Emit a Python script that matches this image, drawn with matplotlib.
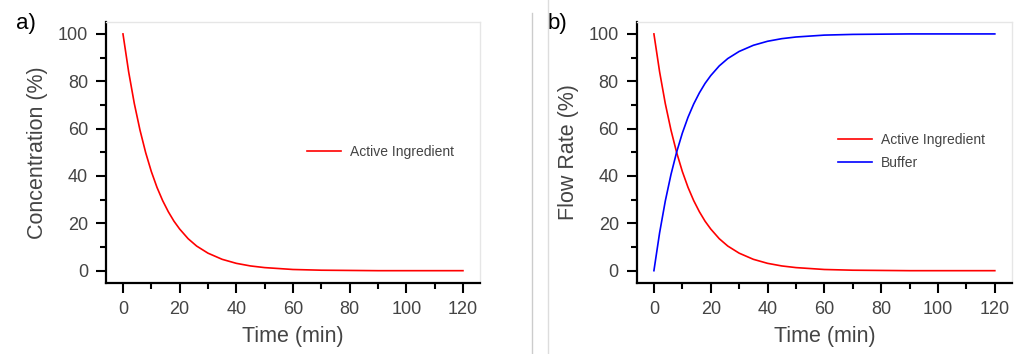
import matplotlib
matplotlib.use("Agg")
import matplotlib.pyplot as plt
from matplotlib.lines import Line2D
from matplotlib.ticker import MultipleLocator

plt.rcParams["font.family"] = ["Liberation Sans", "DejaVu Sans"]

# values
time_min = [0, 2, 4, 6, 8, 10, 12, 14, 16, 18, 20, 23, 26, 30, 35, 40, 45, 50,
            60, 70, 80, 90, 100, 110, 120]
active = [100, 84, 70.6, 59.4, 49.9, 41.9, 35.2, 29.6, 24.9, 20.9, 17.6, 13.5,
          10.4, 7.4, 4.8, 3.1, 2.0, 1.3, 0.5, 0.2, 0.1, 0, 0, 0, 0]
buffer = [0, 16, 29.4, 40.6, 50.1, 58.1, 64.8, 70.4, 75.1, 79.1, 82.4, 86.5,
          89.6, 92.6, 95.2, 96.9, 98.0, 98.7, 99.5, 99.8, 99.9, 100, 100, 100, 100]

TICK_COLOR = "#444444"


def style_axes(ax, ylabel):
    ax.set_xlim(-6, 126)
    ax.set_ylim(-5.2, 105)
    ax.xaxis.set_major_locator(MultipleLocator(20))
    ax.xaxis.set_minor_locator(MultipleLocator(10))
    ax.yaxis.set_major_locator(MultipleLocator(20))
    ax.yaxis.set_minor_locator(MultipleLocator(10))
    for side in ("left", "bottom"):
        ax.spines[side].set_color("black")
        ax.spines[side].set_linewidth(1.6)
    for side in ("top", "right"):
        ax.spines[side].set_color("#e6e6e6")
        ax.spines[side].set_linewidth(1.0)
    ax.tick_params(which="major", direction="out", length=7.5, width=1.5,
                   labelsize=13, labelcolor=TICK_COLOR, pad=5.5)
    ax.tick_params(which="minor", direction="out", length=4.5, width=1.5)
    ax.set_xlabel("Time (min)", fontsize=15.5, color=TICK_COLOR, labelpad=6)
    ax.set_ylabel(ylabel, fontsize=15.5, color=TICK_COLOR, labelpad=7)


fig = plt.figure(figsize=(10.19, 3.54), dpi=100)
ax_a = fig.add_axes([0.104, 0.2006, 0.367, 0.737])
ax_b = fig.add_axes([0.625, 0.2006, 0.368, 0.737])

ax_a.plot(time_min, active, color="red", lw=1.2, label="Active Ingredient")
style_axes(ax_a, "Concentration (%)")
ax_a.legend(loc="center left", bbox_to_anchor=(0.537, 0.502), frameon=False,
            fontsize=10, borderpad=0, borderaxespad=0, handlelength=2.45,
            handletextpad=0.65, labelcolor=TICK_COLOR)

ax_b.plot(time_min, active, color="red", lw=1.2, label="Active Ingredient")
ax_b.plot(time_min, buffer, color="blue", lw=1.2, label="Buffer")
style_axes(ax_b, "Flow Rate (%)")
ax_b.legend(loc="center left", bbox_to_anchor=(0.536, 0.504), frameon=False,
            fontsize=10, borderpad=0, borderaxespad=0, handlelength=2.45,
            handletextpad=0.65, labelspacing=0.6, labelcolor=TICK_COLOR)

fig.text(0.016, 0.935, "a)", fontsize=16, va="center", ha="left")
fig.text(0.537, 0.935, "b)", fontsize=16, va="center", ha="left")

fig.add_artist(Line2D([0.522, 0.522], [0, 0.963], color="#cccccc", lw=1))
fig.add_artist(Line2D([0.538, 0.538], [0, 1.0], color="#dddddd", lw=1))

fig.savefig("out.png", dpi=100)
